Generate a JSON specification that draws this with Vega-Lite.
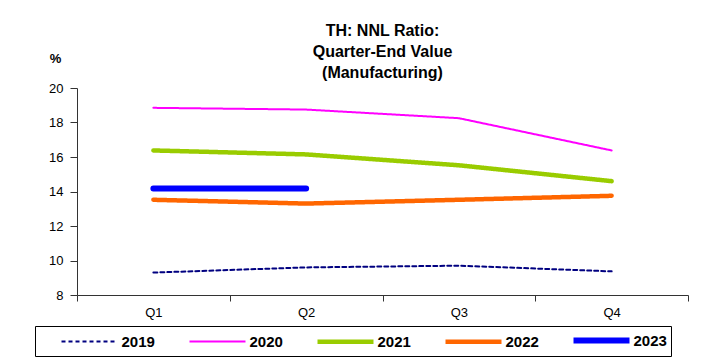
{
  "$schema": "https://vega.github.io/schema/vega-lite/v6.json",
  "width": 611,
  "height": 207,
  "autosize": {"type": "none"},
  "padding": {"left": 77, "top": 88, "right": 24, "bottom": 65},
  "background": "white",
  "config": {
    "view": {"stroke": null},
    "font": "Liberation Sans",
    "legend": {
      "orient": "none",
      "legendX": -42,
      "legendY": 238,
      "direction": "horizontal",
      "columns": 5,
      "strokeColor": "black",
      "padding": 3.5,
      "columnPadding": 11,
      "symbolType": "M1.5,0H8.5",
      "symbolSize": 256,
      "labelFontSize": 15,
      "labelFontWeight": "bold",
      "labelColor": "black",
      "labelOffset": 61,
      "labelLimit": 0
    }
  },
  "title": {
    "text": ["TH: NNL Ratio:", "Quarter-End Value", "(Manufacturing)"],
    "fontSize": 16,
    "fontWeight": "bold",
    "font": "Liberation Sans",
    "color": "black",
    "lineHeight": 21,
    "anchor": "middle",
    "frame": "group",
    "offset": -29
  },
  "data": {
    "values": [
      {"q": "Q1", "year": "2019", "v": 9.3},
      {"q": "Q2", "year": "2019", "v": 9.6},
      {"q": "Q3", "year": "2019", "v": 9.7},
      {"q": "Q4", "year": "2019", "v": 9.37},
      {"q": "Q1", "year": "2020", "v": 18.85},
      {"q": "Q2", "year": "2020", "v": 18.75},
      {"q": "Q3", "year": "2020", "v": 18.25},
      {"q": "Q4", "year": "2020", "v": 16.38},
      {"q": "Q1", "year": "2021", "v": 16.38},
      {"q": "Q2", "year": "2021", "v": 16.15},
      {"q": "Q3", "year": "2021", "v": 15.52},
      {"q": "Q4", "year": "2021", "v": 14.6},
      {"q": "Q1", "year": "2022", "v": 13.52},
      {"q": "Q2", "year": "2022", "v": 13.3},
      {"q": "Q3", "year": "2022", "v": 13.52},
      {"q": "Q4", "year": "2022", "v": 13.75},
      {"q": "Q1", "year": "2023", "v": 14.17},
      {"q": "Q2", "year": "2023", "v": 14.17}
    ]
  },
  "mark": {"type": "line", "strokeCap": "round", "strokeJoin": "round"},
  "encoding": {
    "x": {
      "field": "q",
      "type": "ordinal",
      "scale": {"type": "band", "paddingInner": 0, "paddingOuter": 0},
      "axis": {
        "title": null,
        "labelAngle": 0,
        "labelFontSize": 13,
        "labelColor": "black",
        "domainColor": "#333",
        "tickColor": "#333",
        "tickBand": "extent",
        "tickSize": 6,
        "labelPadding": 5,
        "grid": false
      }
    },
    "y": {
      "field": "v",
      "type": "quantitative",
      "scale": {"domain": [8, 20], "nice": false, "zero": false},
      "axis": {
        "title": "%",
        "titleAngle": 0,
        "titleX": -22,
        "titleY": -30,
        "titleAlign": "center",
        "titleBaseline": "middle",
        "titleFontSize": 13,
        "titleFontWeight": "bold",
        "titleColor": "black",
        "values": [8, 10, 12, 14, 16, 18, 20],
        "labelFontSize": 13,
        "labelColor": "black",
        "labelPadding": 7,
        "tickSize": 7,
        "domainColor": "#333",
        "tickColor": "#333",
        "grid": false
      }
    },
    "color": {
      "field": "year",
      "type": "nominal",
      "scale": {
        "domain": ["2019", "2020", "2021", "2022", "2023"],
        "range": ["#000080", "#FF00FF", "#99CC00", "#FF6600", "#0000FF"]
      },
      "legend": {"title": null}
    },
    "strokeDash": {
      "field": "year",
      "type": "nominal",
      "scale": {
        "domain": ["2019", "2020", "2021", "2022", "2023"],
        "range": [[4, 3], [1, 0], [1, 0], [1, 0], [1, 0]]
      },
      "legend": {"title": null}
    },
    "strokeWidth": {
      "field": "year",
      "type": "nominal",
      "scale": {
        "type": "ordinal",
        "domain": ["2019", "2020", "2021", "2022", "2023"],
        "range": [2, 2, 4.5, 4.5, 6]
      },
      "legend": {"title": null}
    }
  }
}
